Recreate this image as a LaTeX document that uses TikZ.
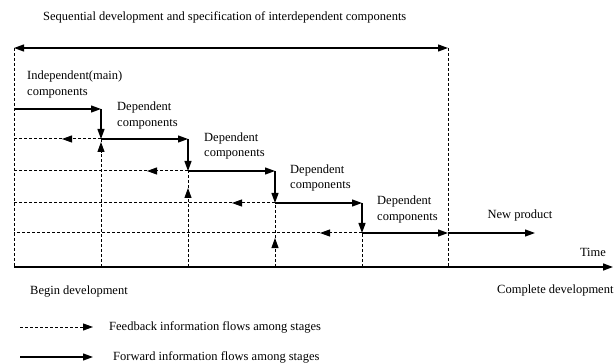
\documentclass[tikz,border=0pt]{standalone}
\usepackage{fontspec}
\setmainfont{Liberation Serif}
\usetikzlibrary{arrows.meta}
\begin{document}
\begin{tikzpicture}[x=1pt,y=-1pt,
  fw/.style={line width=1.2pt},
  fb/.style={line width=1pt, dash pattern=on 3pt off 2pt},
  tip/.style={-{Triangle[length=10pt,width=7pt]}},
  lbl/.style={font=\fontsize{12.5}{15.5}\selectfont, inner sep=0pt, anchor=west, align=left}]
\useasboundingbox (0,0) rectangle (615,363);
% frame coordinates
\coordinate (TL) at (14,48); \coordinate (TR) at (448,48);
\coordinate (BL) at (14,267); \coordinate (BR) at (448,267); \coordinate (AX) at (613,267);
% row 1
\coordinate (a1) at (14,109); \coordinate (b1) at (101,109);
% row 2
\coordinate (a2) at (14,139); \coordinate (b2) at (101,139); \coordinate (c2) at (188,139);
% row 3
\coordinate (a3) at (14,171); \coordinate (c3) at (188,171); \coordinate (d3) at (275,171);
% row 4
\coordinate (a4) at (14,203); \coordinate (d4) at (275,203); \coordinate (e4) at (362,203);
% row 5
\coordinate (a5) at (14,233); \coordinate (e5) at (362,233); \coordinate (f5) at (448,233); \coordinate (g5) at (535,233);
% bottoms
\coordinate (b0) at (101,267); \coordinate (c0) at (188,267); \coordinate (d0) at (275,267); \coordinate (e0) at (362,267);
% mid arrows
\coordinate (m2) at (62,139); \coordinate (m3) at (147,171); \coordinate (m4) at (232,203); \coordinate (m5) at (320,233);
\coordinate (u1) at (101,142); \coordinate (u2) at (188,188); \coordinate (u3) at (275,238);

% frame
\draw[fw,{Triangle[length=10pt,width=7pt]}-{Triangle[length=10pt,width=7pt]}] (TL) -- (TR);
\draw[fb] (TL) -- (BL);
\draw[fb] (TR) -- (BR);
\draw[line width=1.5pt,tip] (BL) -- (AX);

% forward flows
\draw[fw,tip] (a1) -- (b1);
\draw[fw,tip] (b1) -- (b2);
\draw[fw,tip] (b2) -- (c2);
\draw[fw,tip] (c2) -- (c3);
\draw[fw,tip] (c3) -- (d3);
\draw[fw,tip] (d3) -- (d4);
\draw[fw,tip] (d4) -- (e4);
\draw[fw,tip] (e4) -- (e5);
\draw[fw,tip] (e5) -- (f5);
\draw[fw,tip] (f5) -- (g5);

% feedback flows (horizontal)
\draw[fb,tip] (b2) -- (m2); \draw[fb] (m2) -- (a2);
\draw[fb,tip] (c3) -- (m3); \draw[fb] (m3) -- (a3);
\draw[fb,tip] (d4) -- (m4); \draw[fb] (m4) -- (a4);
\draw[fb,tip] (e5) -- (m5); \draw[fb] (m5) -- (a5);

% feedback flows (vertical)
\draw[fb,tip] (b0) -- (u1); \draw[fb] (u1) -- (b2);
\draw[fb,tip] (c0) -- (u2); \draw[fb] (u2) -- (c3);
\draw[fb,tip] (d0) -- (u3); \draw[fb] (u3) -- (d4);
\draw[fb] (e0) -- (e5);

% labels
\node[lbl] (title) at (43,17) {Sequential development and specification of interdependent components};
\node[lbl] (indep) at (27,84.5) {Independent(main)\\components};
\node[lbl] (dep1) at (117,115.5) {Dependent\\components};
\node[lbl] (dep2) at (204,146) {Dependent\\components};
\node[lbl] (dep3) at (290,178) {Dependent\\components};
\node[lbl] (dep4) at (377,209.5) {Dependent\\components};
\node[lbl,anchor=center] (newp) at (520,215) {New product};
\node[lbl,anchor=center] (time) at (593,252) {Time};
\node[lbl] (begin) at (30,292) {Begin development};
\node[lbl] (compl) at (497,290) {Complete development};

% legend
\coordinate (L1a) at (20,327); \coordinate (L1b) at (93,327);
\coordinate (L2a) at (20,357); \coordinate (L2b) at (93,357);
\draw[fb,tip] (L1a) -- (L1b);
\draw[fw,tip] (L2a) -- (L2b);
\node[lbl] (leg1) at (109,327) {Feedback information flows among stages};
\node[lbl] (leg2) at (113,357) {Forward information flows among stages};
\end{tikzpicture}
\end{document}
